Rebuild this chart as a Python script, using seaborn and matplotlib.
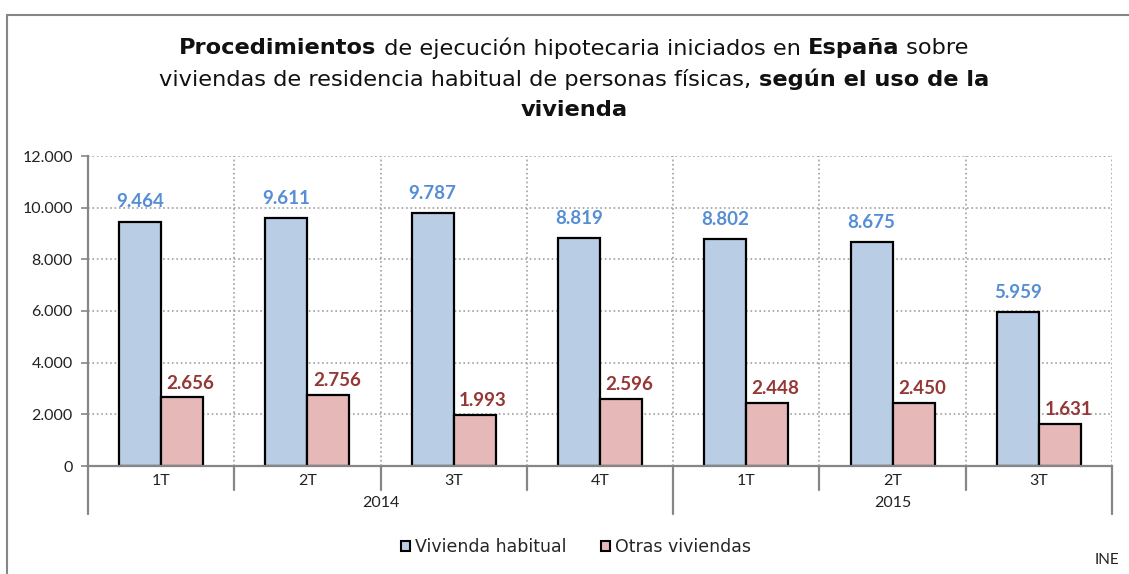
import pandas as pd
import matplotlib.pyplot as plt
import seaborn as sns
from matplotlib.lines import Line2D
from matplotlib.ticker import FuncFormatter, FixedLocator
import matplotlib.transforms as mtransforms

quarters = ['1T', '2T', '3T', '4T', '1T', '2T', '3T']
years = ['2014', '2015']
year_spans = [(0, 3), (4, 6)]
series = ['Vivienda habitual', 'Otras viviendas']
habitual = [9464, 9611, 9787, 8819, 8802, 8675, 5959]
otras = [2656, 2756, 1993, 2596, 2448, 2450, 1631]

fills = ['#B9CDE5', '#E6B9B8']
label_colors = ['#558ED5', '#953735']
grey = '#868686'

sns.set_theme(style='white')
plt.rcParams['font.family'] = ['Lato', 'DejaVu Sans']

periods = [f'{y}-{q}' for y, q in zip(['2014'] * 4 + ['2015'] * 3, quarters)]
df = pd.DataFrame({
    'periodo': periods * 2,
    'valor': habitual + otras,
    'serie': [series[0]] * 7 + [series[1]] * 7,
})

fig = plt.figure(figsize=(11.29, 5.74), dpi=100)
ax = fig.add_axes([88 / 1129, 1 - 466 / 574, (1112 - 88) / 1129, (466 - 156) / 574])

sns.barplot(data=df, x='periodo', y='valor', hue='serie', order=periods,
            hue_order=series, palette=fills, width=0.575, edgecolor='black',
            linewidth=1.6, saturation=1, ax=ax, legend=False)

ax.set_xlim(-0.5, 6.5)
ax.set_ylim(0, 12000)
ax.set_xlabel('')
ax.set_ylabel('')

fmt = lambda v: f'{int(v):,}'.replace(',', '.')
ax.yaxis.set_major_locator(FixedLocator(range(0, 12001, 2000)))
ax.yaxis.set_major_formatter(FuncFormatter(lambda v, p: fmt(v)))
ax.tick_params(axis='y', length=5, width=1.2, color=grey, labelsize=11.5,
               left=True, pad=6, labelcolor='#222222')
ax.set_xticks(range(7))
ax.set_xticklabels(quarters)
ax.tick_params(axis='x', length=0, labelsize=11.5, pad=6, labelcolor='#222222')
ax.xaxis.set_minor_locator(FixedLocator([i + 0.5 for i in range(7)]))

ax.grid(axis='y', which='major', linestyle=':', color='#a0a0a0', linewidth=1.2)
ax.grid(axis='x', which='minor', linestyle=':', color='#a0a0a0', linewidth=1.2)
ax.set_axisbelow(True)
for s in ['top', 'right']:
    ax.spines[s].set_visible(False)
for s in ['left', 'bottom']:
    ax.spines[s].set_color(grey)
    ax.spines[s].set_linewidth(1.6)

# value labels
offsets = [(0, 8), (6, 4)]
for cont, col, off in zip(ax.containers, label_colors, offsets):
    for bar in cont:
        h = bar.get_height()
        ax.annotate(fmt(h), (bar.get_x() + bar.get_width() / 2, h),
                    xytext=off, textcoords='offset points',
                    ha='center', va='bottom', fontsize=13.5, fontweight='bold',
                    color=col)

# two-level x axis separators
trans = mtransforms.blended_transform_factory(ax.transData, ax.transAxes)
for i in range(8):
    xb = i - 0.5
    long_tick = i in (0, 4, 7)
    ybot = -0.155 if long_tick else -0.077
    ax.add_line(Line2D([xb, xb], [0, ybot], transform=trans, color=grey,
                       lw=1.6, clip_on=False))
for yr, (a, b) in zip(years, year_spans):
    ax.text((a + b) / 2, -0.118, yr, transform=trans, ha='center',
            va='center', fontsize=11.5, color='#222222')

# legend
handles = [plt.Rectangle((0, 0), 1, 1, facecolor=c, edgecolor='black', lw=1.5)
           for c in fills]
fig.legend(handles, series, loc='center', bbox_to_anchor=(0.51, 1 - 547 / 574),
           ncol=2, frameon=False, handlelength=0.55, handleheight=0.55,
           handletextpad=0.25, columnspacing=2.0,
           prop={'family': ['DejaVu Sans'], 'size': 12.5})

fig.text(1119 / 1129, 1 - 560 / 574, 'INE', ha='right', va='center',
         fontsize=11, color='#222222')

# frame around the chart
fig.add_artist(Line2D([7 / 1129, 7 / 1129], [0, 1 - 15 / 574],
                      transform=fig.transFigure, color=grey, lw=1.5))
fig.add_artist(Line2D([7 / 1129, 1], [1 - 15 / 574, 1 - 15 / 574],
                      transform=fig.transFigure, color=grey, lw=1.5))

# title with mixed bold runs
title_lines = [
    [('Procedimientos', 'bold'), (' de ejecución hipotecaria iniciados en ', 'normal'),
     ('España', 'bold'), (' sobre', 'normal')],
    [('viviendas de residencia habitual de personas físicas, ', 'normal'),
     ('según el uso de la', 'bold')],
    [('vivienda', 'bold')],
]
title_y = [48, 79, 110]
renderer = fig.canvas.get_renderer()
cx = 574
for line, ypx in zip(title_lines, title_y):
    texts = []
    for s, w in line:
        t = fig.text(0, 1 - ypx / 574, s, fontsize=16.2, fontweight=w,
                     va='center', ha='left', color='#111111',
                     family=['DejaVu Sans'])
        texts.append(t)
    widths = [t.get_window_extent(renderer).width for t in texts]
    x = cx - sum(widths) / 2
    for t, w in zip(texts, widths):
        t.set_x(x / 1129)
        x += w

fig.savefig('out.png', dpi=100)
